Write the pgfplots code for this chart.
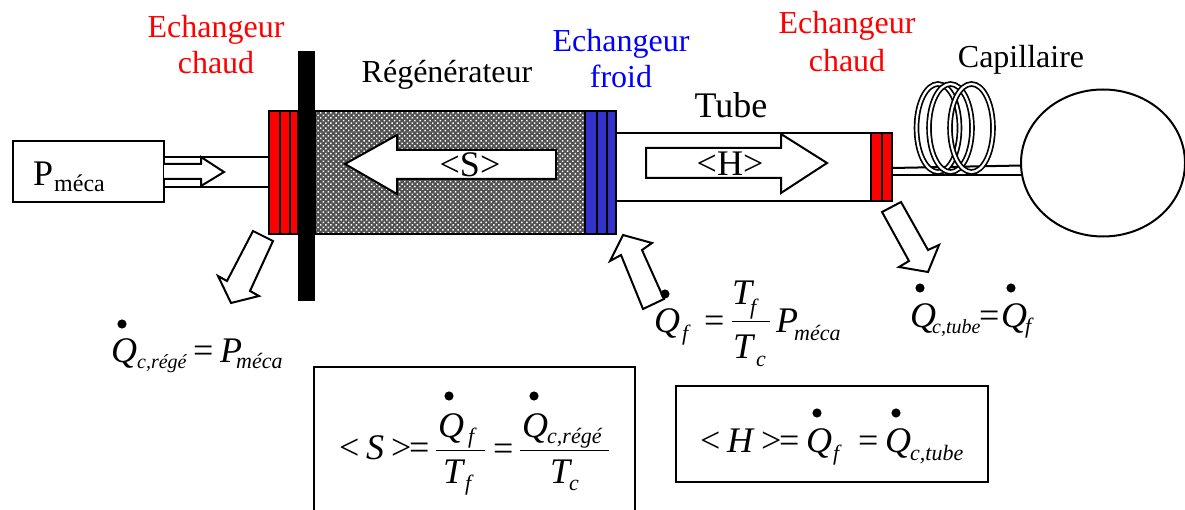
\documentclass[border=0pt]{standalone}
\usepackage{fontspec}
\setmainfont{Liberation Serif}
\usepackage{pgfplots}
\pgfplotsset{compat=1.18}
\usetikzlibrary{patterns.meta}
\definecolor{froid}{RGB}{51,51,204}
\newcommand{\fs}[1]{\fontsize{#1}{#1}\selectfont}
\tikzset{
  lab/.style={inner sep=0pt, anchor=base, font=\fs{32}},
  tx/.style={inner sep=0pt, anchor=base west, font=\fs{36}\itshape},
  sb/.style={inner sep=0pt, anchor=base west, font=\fs{22}\itshape},
  rm/.style={inner sep=0pt, anchor=base west, font=\fs{36}},
}
\begin{document}
\begin{tikzpicture}
\begin{axis}[
  % coordinates are the pixels of the reference, y going down
  width=1185pt, height=510pt, scale only axis,
  xmin=0, xmax=1185, ymin=0, ymax=510, y dir=reverse,
  axis line style={draw=none}, xtick=\empty, ytick=\empty,
  cycle list={{black, solid, mark=none}},
  every axis plot/.append style={line width=2pt, line join=miter, sharp plot},
  ring/.style={draw=black, smooth cycle, tension=1, line width=1.7pt, double=white, double distance=2.2pt},
  ]
  % P meca box, inlet pipe and small arrow
  \addplot[fill=white] coordinates {(13,141) (164,141) (164,202) (13,202)} --cycle;
  \addplot coordinates {(164,157) (269,157)};
  \addplot coordinates {(164,187) (269,187)};
  \addplot[fill=white] coordinates {(164,164) (201,164) (201,157) (224,172) (201,186) (201,179) (164,179)};
  % regenerator
  \addplot[fill=black!68, draw=none] coordinates {(315,111) (585,111) (585,234) (315,234)} --cycle;
  \addplot[pattern={Dots[radius=1.05pt,distance=3.6pt,angle=45]}, pattern color=white] coordinates {(315,111) (585,111) (585,234) (315,234)} --cycle;
  % hot exchanger
  \addplot[fill=red] coordinates {(269,111) (298,111) (298,234) (269,234)} --cycle;
  \addplot coordinates {(280,111) (280,234)};
  \addplot coordinates {(290,111) (290,234)};
  % cold exchanger
  \addplot[fill=froid] coordinates {(585,111) (616,111) (616,234) (585,234)} --cycle;
  \addplot coordinates {(597,111) (597,234)};
  \addplot coordinates {(607,111) (607,234)};
  % flange
  \addplot[fill=black, draw=none] coordinates {(298,51) (315,51) (315,301) (298,301)} --cycle;
  % S arrow
  \addplot[fill=white] coordinates {(345,164) (397,135) (397,150) (556,150) (556,179) (397,179) (397,194)} --cycle;
  % tube
  \addplot coordinates {(616,133) (871,133)};
  \addplot coordinates {(616,201) (871,201)};
  \addplot[fill=white] coordinates {(646,148) (781,148) (781,134) (827,163) (781,193) (781,178) (646,178)} --cycle;
  \addplot[fill=red] coordinates {(871,133) (892,133) (892,201) (871,201)} --cycle;
  \addplot coordinates {(882,133) (882,201)};
  % capillary: rings hide the upper wall, the lower wall runs over them
  \addplot coordinates {(892,168) (1022,165.5)};
  \addplot[ring] coordinates {(959.5,128) (938,172) (916.5,128) (938,84)};
  \addplot[ring] coordinates {(972,128) (950.5,172) (929,128) (950.5,84)};
  \addplot[ring] coordinates {(993,128) (971.5,172) (950,128) (971.5,84)};
  \addplot coordinates {(892,175) (1022,175)};
  \addplot[fill=white, smooth cycle, tension=1] coordinates {(1185,163) (1103,236.5) (1021,163) (1103,89.5)};
  % heat arrows
  \addplot[fill=white] coordinates {(253,231) (273,241) (250,291) (259,296) (231,303) (218,276) (227,281)} --cycle;
  \addplot[fill=white] coordinates {(623,235) (652,243) (642,250) (664,299) (643,309) (621,255) (610,261)} --cycle;
  \addplot[fill=white] coordinates {(901,202) (882,212) (909,261) (899,267) (928,272) (939,245) (928,250)} --cycle;
  % formula boxes
  \addplot coordinates {(314,510) (314,367) (635,367) (635,510)};
  \addplot coordinates {(676,386) (988,386) (988,482) (676,482)} --cycle;
  % fraction bars
  \addplot[line width=1pt] coordinates {(436,450) (485,450)};
  \addplot[line width=1pt] coordinates {(520,450) (609,450)};
  \addplot[line width=1pt] coordinates {(732,322) (770,322)};
  % dots over the Q
  \addplot[only marks, mark=*, mark size=3.5pt, mark options={fill=black, draw=none}] coordinates {
    (122,324) (665,294) (920,288) (1011,288) (449,396) (534,396) (817,413) (896,413)};

  \node[lab, text=red] at (axis cs:216,38) {Echangeur};
  \node[lab, text=red] at (axis cs:216,74) {chaud};
  \node[lab, text=blue] at (axis cs:621,52) {Echangeur};
  \node[lab, text=blue] at (axis cs:621,88) {froid};
  \node[lab, text=red] at (axis cs:847,34) {Echangeur};
  \node[lab, text=red] at (axis cs:847,72) {chaud};
  \node[lab] at (axis cs:447,83) {Régénérateur};
  \node[lab] at (axis cs:1021,68) {Capillaire};
  \node[lab, font=\fs{36}] at (axis cs:731,118) {Tube};
  \node[lab, font=\fs{36}] at (axis cs:470,177) {<S>};
  \node[lab, font=\fs{36}] at (axis cs:730,176) {<H>};
  \node[rm] at (axis cs:33,186) {P};
  \node[rm, font=\fs{24}] at (axis cs:54,192) {méca};

  \node[tx] at (axis cs:111,362) {Q};
  \node[sb, font=\fs{20}\itshape] at (axis cs:137,368) {c,régé};
  \node[rm] at (axis cs:193,362) {=};
  \node[tx] at (axis cs:220,362) {P};
  \node[sb] at (axis cs:236,368) {méca};

  \node[tx] at (axis cs:654,332) {Q};
  \node[sb] at (axis cs:682,340) {f};
  \node[rm] at (axis cs:704,332) {=};
  \node[tx] at (axis cs:732,305) {T};
  \node[sb] at (axis cs:750,315) {f};
  \node[tx] at (axis cs:733,358) {T};
  \node[sb] at (axis cs:756,366) {c};
  \node[tx] at (axis cs:776,332) {P};
  \node[sb] at (axis cs:794,340) {méca};

  \node[tx] at (axis cs:910,327) {Q};
  \node[sb, font=\fs{20}\itshape] at (axis cs:932,334) {c,tube};
  \node[rm] at (axis cs:979,327) {=};
  \node[tx] at (axis cs:1001,327) {Q};
  \node[sb] at (axis cs:1025,334) {f};

  \node[rm] at (axis cs:339,459) {<};
  \node[tx] at (axis cs:366,459) {S};
  \node[rm] at (axis cs:391,459) {>};
  \node[rm] at (axis cs:409,459) {=};
  \node[tx] at (axis cs:438,437) {Q};
  \node[sb] at (axis cs:468,443) {f};
  \node[tx] at (axis cs:443,483) {T};
  \node[sb] at (axis cs:465,490) {f};
  \node[rm] at (axis cs:493,460) {=};
  \node[tx] at (axis cs:522,437) {Q};
  \node[sb] at (axis cs:547,443) {c,régé};
  \node[tx] at (axis cs:550,483) {T};
  \node[sb] at (axis cs:569,490) {c};

  \node[rm] at (axis cs:700,452) {<};
  \node[tx] at (axis cs:727,452) {H};
  \node[rm] at (axis cs:761,452) {>};
  \node[rm] at (axis cs:779,452) {=};
  \node[tx] at (axis cs:806,452) {Q};
  \node[sb] at (axis cs:833,460) {f};
  \node[rm] at (axis cs:858,452) {=};
  \node[tx] at (axis cs:885,452) {Q};
  \node[sb] at (axis cs:910,460) {c,tube};
\end{axis}
\end{tikzpicture}
\end{document}
